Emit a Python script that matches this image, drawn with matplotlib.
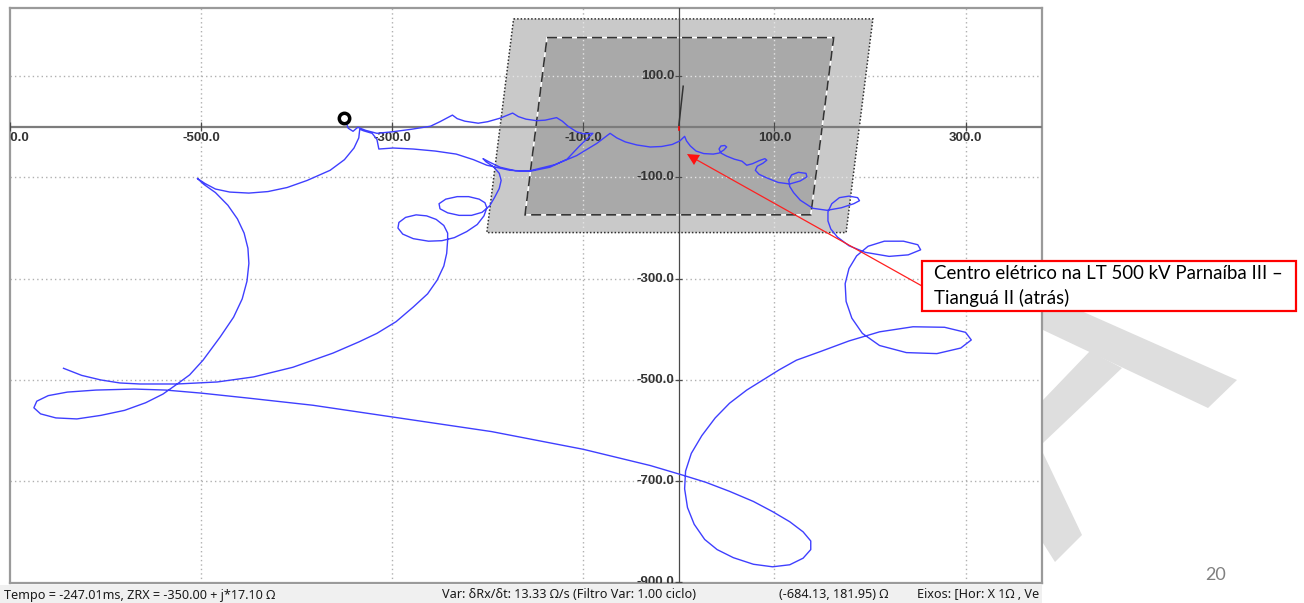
import matplotlib
matplotlib.use('Agg')
import matplotlib.pyplot as plt
from matplotlib.patches import Polygon, Rectangle
from matplotlib.lines import Line2D

W, H, DPI = 1304, 603, 100

# ---------------- data (R, X in ohms) ----------------
traj_r = [
    # free end and rise
    -644, -625, -605, -585, -564, -525, -483, -445, -404, -362, -335, -316, -296, -278,
    -263, -253, -246, -243, -242,
    # loop 1
    -242, -246, -254, -264, -275, -286, -293, -294, -289, -278, -262, -248, -235, -222,
    -211, -204, -201,
    # loop 2 and hook
    -203, -209, -220, -232, -244, -251, -250, -242, -230, -217, -206, -198, -193, -188,
    -186, -188, -194, -202, -205, -198, -187, -171, -156, -130, -107, -86, -77, -72,
    # lower scallops
    -65, -56, -44, -30, -18, -7, 1, 6, 8, 12, 18, 26, 36,
    # small loops
    42, 47, 50, 48, 44, 42, 44, 50, 58, 66, 71, 77, 84, 90, 92, 88, 82, 80, 84, 92, 104,
    116, 127, 134, 133, 125, 118, 115, 116, 120, 127, 140, 155, 170, 183, 189, 187, 178,
    168, 160, 156, 156, 159, 166, 178, 195, 220, 240, 253, 250, 235, 215, 198, 186, 178,
    174, 175, 181, 192, 210, 238, 270, 295, 306, 300, 278, 245, 210, 178, 148, 123, 105,
    88, 71, 53, 38, 24, 13, 7, 6, 9, 16, 27, 40, 57, 78, 98, 116, 130, 138, 138, 130, 116,
    98, 78, 53, 28, 4, -30,
    # long return to the left and left loop
    -100, -196, -300, -383, -450, -500, -537, -570, -610, -640, -660, -672, -675, -668,
    -652, -630, -605, -580, -558, -540, -525, -512, -498, -480, -466, -457, -452, -450,
    -451, -455, -462, -472, -485, -497, -504,
    # arc back to the load point
    -496, -485, -470, -450, -430, -410, -389, -365, -350, -340, -335, -334,
    # lower branch towards -100
    -330, -321, -316, -314, -299, -278, -255, -233, -215, -201, -177, -156, -135, -117,
    -104, -90,
    # upper scallops back to the marker
    -100, -107, -116, -122, -128, -140, -149, -160, -168, -174, -187, -200, -210, -224,
    -232, -237, -243, -250, -260, -280, -300, -316, -328, -336, -341, -346, -348, -350,
]
traj_x = [
    -477, -491, -500, -506, -508, -508, -504, -494, -475, -447, -425, -408, -385, -356,
    -330, -303, -275, -250, -224,
    -210, -195, -183, -176, -174, -179, -189, -200, -212, -221, -226, -225, -219, -207,
    -193, -176, -160,
    -150, -143, -138, -138, -143, -152, -162, -170, -175, -175, -169, -156, -140, -122,
    -106, -92, -79, -69, -63, -70, -80, -87, -87, -75, -57, -33, -20, -13,
    -22, -30, -36, -40, -39, -35, -28, -19, -28, -38, -48, -53, -54,
    -52, -46, -40, -37, -38, -44, -52, -58, -64, -68, -76, -73, -67, -63, -66, -72, -78,
    -86, -94, -101, -110,
    -113, -107, -99, -92, -90, -95, -105, -118, -130, -145, -161, -165, -160, -152, -146,
    -140, -137, -140, -152, -168, -186, -202, -218, -235, -248, -256, -253, -243, -233,
    -226, -226, -236, -255, -280, -310, -345, -378, -408, -432, -446, -448, -437, -421,
    -406, -396, -395, -405, -423, -444, -461, -480, -500, -520, -546, -575, -610, -645,
    -680, -715, -752, -785, -815, -835, -851, -864, -869, -865, -852, -835, -818, -800,
    -780, -760, -740, -720, -702, -688, -669,
    -637, -602, -573, -550, -536, -526, -520, -518, -520, -524, -531, -542, -555, -567,
    -575, -577, -570, -560, -545, -528, -508, -490, -461, -415, -376, -340, -305, -270,
    -240, -210, -182, -155, -130, -114, -102,
    -112, -123, -129, -131, -128, -120, -106, -86, -65, -42, -22, -5,
    -8, -13, -25, -44, -42, -44, -48, -54, -65, -76, -86, -88, -80, -64,
    -38, -13,
    -14, -10, 1, 11, 18, 13, 12, 15, 20, 27, 17, 10, 7, 11,
    16, 23, 17, 10, 1, -5, -10, -13, -7, -1, -9, -3, 7, 17.1,
]
marker_r = [-350.0]
marker_x = [17.1]

outer_zone_r = [-173, 203, 175, -201]
outer_zone_x = [213, 213, -209, -209]
inner_zone_r = [-138, 162, 138, -161]
inner_zone_x = [176, 176, -174, -174]

line_r = [0, 4.5]
line_x = [3, 80]
center_r = [0, 0]
center_x = [0, -7]

grid_r = [-500, -300, -100, 100, 300]
grid_x = [100, -100, -300, -500, -700]
xtick_vals = [-700, -500, -300, -100, 100, 300]
ytick_vals = [100, -100, -300, -500, -700, -900]

status_texts = [
    "Tempo = -247.01ms, ZRX = -350.00 + j*17.10 \u03a9",
    "Var: \u03b4Rx/\u03b4t: 13.33 \u03a9/s (Filtro Var: 1.00 ciclo)",
    "(-684.13, 181.95) \u03a9",
    "Eixos: [Hor: X 1\u03a9 , Ve",
]
annot_lines = ["Centro el\u00e9trico na LT 500 kV Parna\u00edba III \u2013",
               "Tiangu\u00e1 II (atr\u00e1s)"]
page_number = "20"

# ---------------- figure ----------------
fig = plt.figure(figsize=(W / DPI, H / DPI), dpi=DPI)
fig.patch.set_facecolor('white')


def fxy(px, py):
    return (px / W, 1 - py / H)


# watermark shapes (slide background)
wm_polys = [
    [(1043, 294), (1237, 380), (1208, 408), (1043, 330)],
    [(1090, 351), (1122, 368), (1043, 443), (1043, 400)],
    [(1043, 453), (1082, 535), (1055, 562), (1043, 543)],
]
for poly in wm_polys:
    fig.add_artist(Polygon([fxy(*p) for p in poly], closed=True,
                           transform=fig.transFigure, facecolor='#dedede',
                           edgecolor='none', zorder=0))

# status bar
fig.add_artist(Rectangle(fxy(0, 603), 1042 / W, 18 / H, transform=fig.transFigure,
                         facecolor='#f0f0f0', edgecolor='none', zorder=1))
status_x = [4, 442, 779, 917]
sfont = ['Noto Sans', 'DejaVu Sans']
for sx, st in zip(status_x, status_texts):
    fig.text(*fxy(sx, 595), st, ha='left', va='center', fontsize=9.1,
             family=sfont, color='#1a1a1a', zorder=2)

# main axes
ax = fig.add_axes([10 / W, (H - 583) / H, 1032 / W, 575 / H])
ax.set_xlim(-700, 380)
ax.set_ylim(-901, 234.5)
ax.set_facecolor('white')
ax.set_xticks([])
ax.set_yticks([])
for sp in ax.spines.values():
    sp.set_color('#9a9a9a')
    sp.set_linewidth(1.6)

grid_style = dict(color='#b0b0b0', lw=1.0, ls=(0, (1, 2.2)), zorder=1)
for g in grid_r:
    ax.axvline(g, **grid_style)
for g in grid_x:
    ax.axhline(g, **grid_style)

outer = Polygon(list(zip(outer_zone_r, outer_zone_x)), closed=True,
                facecolor='#c9c9c9', edgecolor='none', zorder=2)
ax.add_patch(outer)
ax.add_patch(Polygon(list(zip(outer_zone_r, outer_zone_x)), closed=True,
                     facecolor='none', edgecolor='#303030', lw=1.1,
                     ls=(0, (1, 1.3)), zorder=3.2))
ax.add_patch(Polygon(list(zip(inner_zone_r, inner_zone_x)), closed=True,
                     facecolor='#a9a9a9', edgecolor='white', lw=1.1, zorder=3))
ax.add_patch(Polygon(list(zip(inner_zone_r, inner_zone_x)), closed=True,
                     facecolor='none', edgecolor='#333333', lw=1.2,
                     ls=(0, (6, 3)), zorder=3.2))

# light grid over the zones
light = dict(color='#e4e4e4', lw=1.0, ls=(0, (1, 2.2)), zorder=3.1)
for g in grid_r:
    ln = ax.axvline(g, **light)
    ln.set_clip_path(outer)
for g in grid_x:
    ln = ax.axhline(g, **light)
    ln.set_clip_path(outer)

# axes through origin
ax.axhline(0, color='#7c7c7c', lw=1.6, zorder=4)
ax.axvline(0, color='#4a4a4a', lw=0.9, zorder=4)
ax.vlines(xtick_vals, -9, 9, color='#4a4a4a', lw=0.9, zorder=4)
ax.hlines(ytick_vals, -4, 3, color='#4a4a4a', lw=0.9, zorder=4)

tfont = ['Liberation Sans', 'DejaVu Sans']
for v in xtick_vals:
    ax.text(v, -11, f'{v:.1f}', ha='center', va='top', fontsize=9.6,
            fontweight='bold', family=tfont, color='#333333', zorder=5,
            clip_on=True)
for v in ytick_vals:
    ax.text(-5, v, f'{v:.1f}', ha='right', va='center', fontsize=9.6,
            fontweight='bold', family=tfont, color='#333333', zorder=5,
            clip_on=True)

# line characteristic and center
ax.plot(line_r, line_x, color='#333333', lw=1.1, zorder=5)
ax.plot(center_r, center_x, color='red', lw=1.2, zorder=5)

# trajectory
ax.plot(traj_r, traj_x, color='#3f3fff', lw=1.0, zorder=6,
        solid_joinstyle='round')
ax.plot(marker_r, marker_x, 'o', ms=7.5, mfc='white', mec='black', mew=2.5, zorder=7)

# annotation (slide overlay)
fig.add_artist(Line2D([fxy(922, 286)[0], fxy(697, 160)[0]],
                      [fxy(922, 286)[1], fxy(697, 160)[1]],
                      transform=fig.transFigure, color='#ff2020', lw=0.9, zorder=10))
fig.add_artist(Polygon([fxy(687, 154), fxy(700, 155), fxy(694, 165)], closed=True,
                       transform=fig.transFigure, facecolor='#ff1010',
                       edgecolor='none', zorder=10))
fig.add_artist(Rectangle(fxy(922, 311), 374 / W, 50 / H, transform=fig.transFigure,
                         facecolor='white', edgecolor='#ff0000', lw=1.6, zorder=10))
afont = ['Lato', 'DejaVu Sans']
fig.text(*fxy(934, 274), annot_lines[0], ha='left', va='center', fontsize=13.4,
         family=afont, color='black', zorder=11)
fig.text(*fxy(934, 298), annot_lines[1], ha='left', va='center', fontsize=13.4,
         family=afont, color='black', zorder=11)
fig.text(*fxy(1216, 575), page_number, ha='center', va='center', fontsize=13,
         family=afont, color='#808080', zorder=11)

fig.savefig('out.png', dpi=DPI, facecolor='white')
